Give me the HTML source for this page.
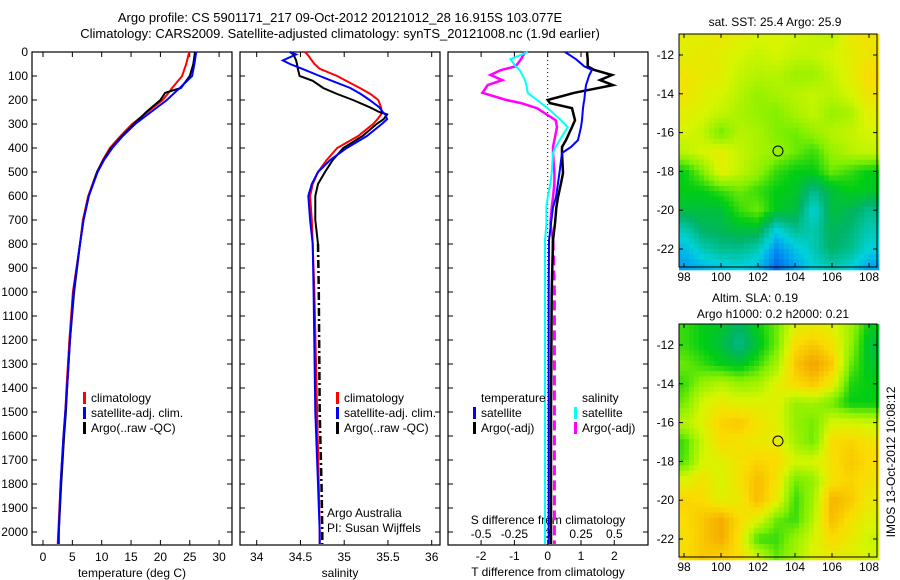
<!DOCTYPE html>
<html><head><meta charset="utf-8"><style>
body{margin:0;background:#fff;}
svg{display:block;font-family:"Liberation Sans",sans-serif;}
text{font-size:12px;fill:#000;}
</style></head><body>
<svg id="s" width="900" height="580" viewBox="0 0 900 580"></svg>
<script>
// ---------- DATA ----------
const tDepth=[0,50,100,150,170,200,250,300,350,400,450,500,600,700,800,1000,1200,1400,1500,1600,1800,2000,2050];
const tClim=[24.9,24.4,23.7,22.0,21.4,20.4,17.8,15.2,13.2,11.4,10.2,9.2,7.7,6.8,6.3,5.1,4.5,4.0,3.8,3.5,3.0,2.6,2.5];
const tSat=[26.1,25.8,25.4,23.3,22.4,21.1,18.4,15.7,13.6,11.8,10.4,9.3,7.8,6.9,6.3,5.2,4.6,4.1,3.8,3.5,3.0,2.7,2.6];
const tArgo=[25.9,25.6,25.0,23.5,20.8,20.0,17.6,15.5,13.5,11.6,10.3,9.2,7.8,6.9,6.3,5.3,4.6,4.1,3.9,3.6,3.1,2.7,2.7];
const sDepth=[0,10,35,50,70,100,120,150,175,200,230,250,260,280,300,350,400,450,500,550,600,700,800,1000,1500,1800,2000,2050];
const sClim=[34.55,34.58,34.63,34.66,34.72,34.92,35.02,35.18,35.30,35.39,35.42,35.43,35.42,35.38,35.33,35.16,34.92,34.80,34.70,34.64,34.61,34.63,34.64,34.66,34.69,34.71,34.72,34.72];
const sSat=[34.38,34.45,34.30,34.38,34.52,34.72,34.86,35.07,35.19,35.29,35.40,35.44,35.47,35.49,35.43,35.26,35.03,34.84,34.70,34.63,34.59,34.61,34.64,34.65,34.67,34.70,34.72,34.72];
const sArgo=[34.38,34.42,34.45,34.46,34.47,34.49,34.64,34.76,34.92,35.10,35.29,35.40,35.49,35.45,35.37,35.21,34.99,34.87,34.78,34.70,34.67,34.67,34.70,34.71,34.72,34.74,34.75,34.75];
const dDepth=[0,30,60,75,96,117,138,170,200,213,234,284,313,367,396,421,505,547,605,647,714,785,1000,1500,2050];
const dTSat=[0.52,0.85,1.1,1.33,1.25,1.2,1.15,1.12,1.1,1.08,1.06,1.03,1.0,0.91,0.7,0.43,0.35,0.31,0.25,0.16,0.1,0.04,0.03,0.03,0.03];
const dTArgo=[1.18,1.2,1.2,1.4,1.93,1.57,1.96,0.8,0.0,0.07,0.73,0.82,0.73,0.55,0.43,0.43,0.46,0.4,0.31,0.26,0.22,0.16,0.12,0.1,0.1];
const dSSat=[-0.15,-0.28,-0.24,-0.21,-0.19,-0.17,-0.16,-0.15,-0.08,-0.05,0.0,0.1,0.15,0.09,0.06,0.04,0.03,0.02,0.0,-0.01,-0.01,-0.02,-0.02,-0.02,-0.02];
const dSArgo=[-0.17,-0.2,-0.24,-0.35,-0.43,-0.34,-0.45,-0.49,-0.31,-0.2,-0.08,0.06,0.07,0.05,0.04,0.04,0.05,0.05,0.04,0.03,0.02,0.04,0.05,0.05,0.05];
const depthTicks=[0,100,200,300,400,500,600,700,800,900,1000,1100,1200,1300,1400,1500,1600,1700,1800,1900,2000];
const tTicks=[0,5,10,15,20,25,30];
const sTicks=[34,34.5,35,35.5,36];
const sTickLabels=["34","34.5","35","35.5","36"];
const dtTicks=[-2,-1,0,1,2];
const dsTicks=[-0.5,-0.25,0,0.25,0.5];
const dsTickLabels=["-0.5","-0.25","0","0.25","0.5"];
const lonTicks=[98,100,102,104,106,108];
const latTicks=[-12,-14,-16,-18,-20,-22];
const mapLats=[-11,-12,-13,-14,-15,-16,-17,-18,-19,-20,-21,-22,-23];
const mapLons=[98,99,100,101,102,103,104,105,106,107,108];
const sstGrid=[
[0.78,0.78,0.8,0.78,0.76,0.76,0.74,0.72,0.7,0.8,0.82],
[0.78,0.8,0.78,0.75,0.72,0.75,0.72,0.72,0.75,0.78,0.82],
[0.82,0.8,0.78,0.72,0.7,0.7,0.66,0.66,0.72,0.78,0.85],
[0.82,0.78,0.75,0.7,0.65,0.68,0.7,0.72,0.7,0.75,0.82],
[0.78,0.75,0.72,0.68,0.65,0.62,0.68,0.72,0.65,0.68,0.78],
[0.75,0.72,0.6,0.7,0.68,0.62,0.6,0.65,0.7,0.72,0.75],
[0.7,0.75,0.78,0.72,0.68,0.65,0.6,0.55,0.65,0.7,0.72],
[0.5,0.62,0.78,0.72,0.65,0.55,0.5,0.5,0.6,0.55,0.5],
[0.5,0.5,0.55,0.6,0.55,0.5,0.48,0.35,0.45,0.5,0.48],
[0.45,0.45,0.45,0.55,0.6,0.48,0.45,0.25,0.45,0.42,0.35],
[0.3,0.4,0.42,0.45,0.45,0.25,0.35,0.3,0.42,0.38,0.3],
[0.2,0.3,0.35,0.35,0.3,0.12,0.22,0.3,0.4,0.35,0.25],
[0.15,0.18,0.22,0.25,0.2,0.05,0.15,0.25,0.3,0.25,0.15]];
const slaGrid=[
[0.5,0.45,0.42,0.35,0.45,0.55,0.72,0.75,0.72,0.62,0.45],
[0.5,0.45,0.4,0.3,0.42,0.55,0.8,0.85,0.78,0.6,0.4],
[0.55,0.5,0.45,0.42,0.5,0.62,0.85,0.95,0.85,0.55,0.42],
[0.5,0.6,0.65,0.6,0.62,0.72,0.8,0.85,0.75,0.48,0.45],
[0.55,0.7,0.75,0.72,0.72,0.72,0.6,0.62,0.55,0.45,0.45],
[0.65,0.72,0.82,0.85,0.78,0.72,0.6,0.55,0.7,0.7,0.68],
[0.5,0.68,0.8,0.78,0.75,0.75,0.62,0.55,0.8,0.82,0.78],
[0.52,0.7,0.72,0.78,0.82,0.8,0.7,0.7,0.78,0.85,0.8],
[0.72,0.78,0.7,0.78,0.88,0.78,0.55,0.6,0.78,0.82,0.78],
[0.82,0.8,0.72,0.75,0.88,0.75,0.5,0.62,0.9,0.85,0.75],
[0.8,0.85,0.92,0.8,0.72,0.55,0.5,0.65,0.88,0.78,0.72],
[0.78,0.85,0.92,0.78,0.5,0.5,0.6,0.7,0.8,0.75,0.68],
[0.8,0.85,0.82,0.8,0.7,0.55,0.62,0.72,0.75,0.72,0.7]];
const floatLon=103.08, floatLat=-16.95;

// ---------- DRAW ----------
const NS="http://www.w3.org/2000/svg";
const svg=document.getElementById('s');
function el(tag,attrs,parent){const e=document.createElementNS(NS,tag);for(const k in attrs)e.setAttribute(k,attrs[k]);(parent||svg).appendChild(e);return e;}
function txt(x,y,s,anchor,parent,size){const t=el('text',{x:x,y:y,'text-anchor':anchor||'middle'},parent);if(size)t.style.fontSize=size+'px';t.textContent=s;return t;}
const Y0=52,PY=0.24,TOP=52,BOT=545;
const yD=d=>Y0+d*PY;

function panel(name,x0,x1){
  const g=el('g',{});
  
  
  el('rect',{x:x0,y:TOP,width:x1-x0,height:BOT-TOP,fill:'#fff',stroke:'#000','stroke-width':1.2},g);
  depthTicks.forEach(d=>{const y=yD(d);el('line',{x1:x0,x2:x0+5,y1:y,y2:y,stroke:'#000'},g);el('line',{x1:x1-5,x2:x1,y1:y,y2:y,stroke:'#000'},g);});
  return g;
}
function line(g,xs,ds,xf,color,w,dash,name){
  const p=xs.map((v,i)=>(xf(v)).toFixed(1)+','+yD(ds[i]).toFixed(1)).join(' ');
  const l=el('polyline',{points:p,fill:'none',stroke:color,'stroke-width':w},g);
  if(dash)l.setAttribute('stroke-dasharray',dash);
  
  
  return l;
}
function legendRow(g,x,y,color,label,name){
  el('rect',{x:x,y:y-10,width:3,height:12,fill:color},g);
  const t=txt(x+8,y,label,'start',g);
  
  
}

// titles
const t1=txt(340,22,'Argo profile: CS 5901171_217 09-Oct-2012 20121012_28 16.915S 103.077E','middle',null,13);

const t2=txt(340,38,'Climatology: CARS2009. Satellite-adjusted climatology: synTS_20121008.nc (1.9d earlier)','middle',null,13);


// Panel 1: temperature
const xT=v=>43+v*5.87;
const g1=panel('temperature-panel',32,232);
depthTicks.forEach(d=>{txt(28,yD(d)+4,String(d),'end',g1);});
tTicks.forEach(v=>{const x=xT(v);el('line',{x1:x,x2:x,y1:TOP,y2:TOP+5,stroke:'#000'},g1);el('line',{x1:x,x2:x,y1:BOT-5,y2:BOT,stroke:'#000'},g1);txt(x,561,String(v),'middle',g1);});
txt(132,577,'temperature (deg C)','middle',g1);
line(g1,tClim,tDepth,xT,'#f00',2,null,'temp-climatology-line');
line(g1,tArgo,tDepth,xT,'#000',2,null,'temp-argo-line');
line(g1,tSat,tDepth,xT,'#00f',2,null,'temp-satellite-line');
legendRow(g1,83,402,'#f00','climatology','legend-climatology');
legendRow(g1,83,417,'#00f','satellite-adj. clim.','legend-satellite');
legendRow(g1,83,432,'#000','Argo(..raw -QC)','legend-argo');

// Panel 2: salinity
const xS=v=>256.7+(v-34)*87.5;
const g2=panel('salinity-panel',240,440);
sTicks.forEach((v,i)=>{const x=xS(v);el('line',{x1:x,x2:x,y1:TOP,y2:TOP+5,stroke:'#000'},g2);el('line',{x1:x,x2:x,y1:BOT-5,y2:BOT,stroke:'#000'},g2);txt(x,561,sTickLabels[i],'middle',g2);});
txt(340,577,'salinity','middle',g2);
line(g2,sClim,sDepth,xS,'#f00',2,null,'sal-climatology-line');
const sSplit=22;
line(g2,sArgo.slice(0,sSplit+1),sDepth.slice(0,sSplit+1),xS,'#000',2,null,'sal-argo-line');
line(g2,sArgo.slice(sSplit),sDepth.slice(sSplit),xS,'#000',2.5,'8 3 2 3','sal-argo-dashed-line');
line(g2,sSat,sDepth,xS,'#00f',2,null,'sal-satellite-line');
legendRow(g2,336,402,'#f00','climatology','legend-climatology-2');
legendRow(g2,336,417,'#00f','satellite-adj. clim.','legend-satellite-2');
legendRow(g2,336,432,'#000','Argo(..raw -QC)','legend-argo-2');
txt(327,517,'Argo Australia','start',g2);
txt(327,532,'PI: Susan Wijffels','start',g2);

// Panel 3: differences
const xDT=v=>547.7+v*33.3, xDS=v=>547.7+v*133.3;
const g3=panel('difference-panel',448,648);
el('line',{x1:xDT(0),x2:xDT(0),y1:TOP,y2:BOT,stroke:'#000','stroke-dasharray':'1 3'},g3);
dtTicks.forEach(v=>{const x=xDT(v);el('line',{x1:x,x2:x,y1:TOP,y2:TOP+5,stroke:'#000'},g3);el('line',{x1:x,x2:x,y1:BOT-5,y2:BOT,stroke:'#000'},g3);txt(x,560,String(v),'middle',g3);});
dsTicks.forEach((v,i)=>{txt(xDS(v),538,dsTickLabels[i],'middle',g3);});
txt(548,524,'S difference from climatology','middle',g3);
txt(548,576,'T difference from climatology','middle',g3);
line(g3,dSArgo.slice(0,22),dDepth.slice(0,22),xDS,'#f0f',2.5,null,'sal-diff-argo-line');
line(g3,dSArgo.slice(21),dDepth.slice(21),xDS,'#f0f',3,'10 5','sal-diff-argo-dashed');
line(g3,dTArgo,dDepth,xDT,'#000',2.5,null,'temp-diff-argo-line');
line(g3,dTSat,dDepth,xDT,'#00f',2,null,'temp-diff-satellite-line');
line(g3,dSSat,dDepth,xDS,'#0ff',2,null,'sal-diff-satellite-line');
txt(481,402,'temperature','start',g3);
txt(582,402,'salinity','start',g3);
legendRow(g3,473,417,'#00f','satellite','legend-t-satellite');
legendRow(g3,473,432,'#000','Argo(-adj)','legend-t-argo');
legendRow(g3,574,417,'#0ff','satellite','legend-s-satellite');
legendRow(g3,574,432,'#f0f','Argo(-adj)','legend-s-argo');

// Maps
function cmap(v){
  const stops=[[0,[0,70,230]],[0.15,[0,160,240]],[0.25,[0,210,220]],[0.4,[0,180,100]],[0.5,[0,205,20]],[0.62,[130,240,0]],[0.75,[215,245,0]],[0.85,[250,220,0]],[1,[245,160,0]]];
  v=Math.max(0,Math.min(1,v));
  for(let i=1;i<stops.length;i++){if(v<=stops[i][0]){const a=stops[i-1],b=stops[i],f=(v-a[0])/(b[0]-a[0]);return 'rgb('+a[1].map((c,j)=>Math.round(c+(b[1][j]-c)*f)).join(',')+')';}}
  return 'rgb(245,160,0)';
}
function sample(grid,lon,lat){
  let fx=(lon-mapLons[0]),fy=(mapLats[0]-lat);
  fx=Math.max(0,Math.min(mapLons.length-1.001,fx));fy=Math.max(0,Math.min(mapLats.length-1.001,fy));
  const i=Math.floor(fy),j=Math.floor(fx),a=fy-i,b=fx-j;
  return grid[i][j]*(1-a)*(1-b)+grid[i][j+1]*(1-a)*b+grid[i+1][j]*a*(1-b)+grid[i+1][j+1]*a*b;
}
function drawMap(name,grid,y0,y1,offset,step){
  const x0=679,x1=877;
  const lonX=l=>684+(l-98)*18.5;
  const latY=l=>y0+21+(-12-l)*19.4;
  const g=el('g',{});
  
  
  const lonMin=98+(x0-684)/18.5,lonMax=98+(x1-684)/18.5;
  const latMax=-12+21/19.4,latMin=-12-(y1-y0-21)/19.4;
  for(let lat=latMax;lat>latMin;lat-=step){
    for(let lon=lonMin;lon<lonMax;lon+=step){
      const v=sample(grid,lon+step/2,lat-step/2)+offset;
      const x=lonX(lon),y=latY(lat);
      el('rect',{x:x.toFixed(1),y:y.toFixed(1),width:(step*18.5+0.6).toFixed(1),height:(step*19.4+0.6).toFixed(1),fill:cmap(v)},g);
    }
  }
  el('rect',{x:x0,y:y0,width:x1-x0,height:y1-y0,fill:'none',stroke:'#000','stroke-width':1},g);
  lonTicks.forEach(l=>{const x=lonX(l);el('line',{x1:x,x2:x,y1:y0,y2:y0+4,stroke:'#000'},g);el('line',{x1:x,x2:x,y1:y1-4,y2:y1,stroke:'#000'},g);txt(x,y1+14,String(l),'middle',g);});
  latTicks.forEach(l=>{const y=latY(l);el('line',{x1:x0,x2:x0+4,y1:y,y2:y,stroke:'#000'},g);el('line',{x1:x1-4,x2:x1,y1:y,y2:y,stroke:'#000'},g);txt(674,y+4,String(l),'end',g);});
  const c=el('circle',{cx:lonX(floatLon),cy:latY(floatLat),r:5,fill:'none',stroke:'#000','stroke-width':1},g);
  
  
}
drawMap('sst-map',sstGrid,34,267,0,0.27);
drawMap('sla-map',slaGrid,324,557,0.05,0.27);
txt(775,26,'sat. SST: 25.4 Argo: 25.9','middle');
txt(755,302,'Altim. SLA: 0.19','middle');
txt(773,318,'Argo h1000: 0.2 h2000: 0.21','middle');
const im=txt(0,0,'IMOS 13-Oct-2012 10:08:12','middle');
im.setAttribute('transform','translate(895,462) rotate(-90)');


</script>
</body></html>
